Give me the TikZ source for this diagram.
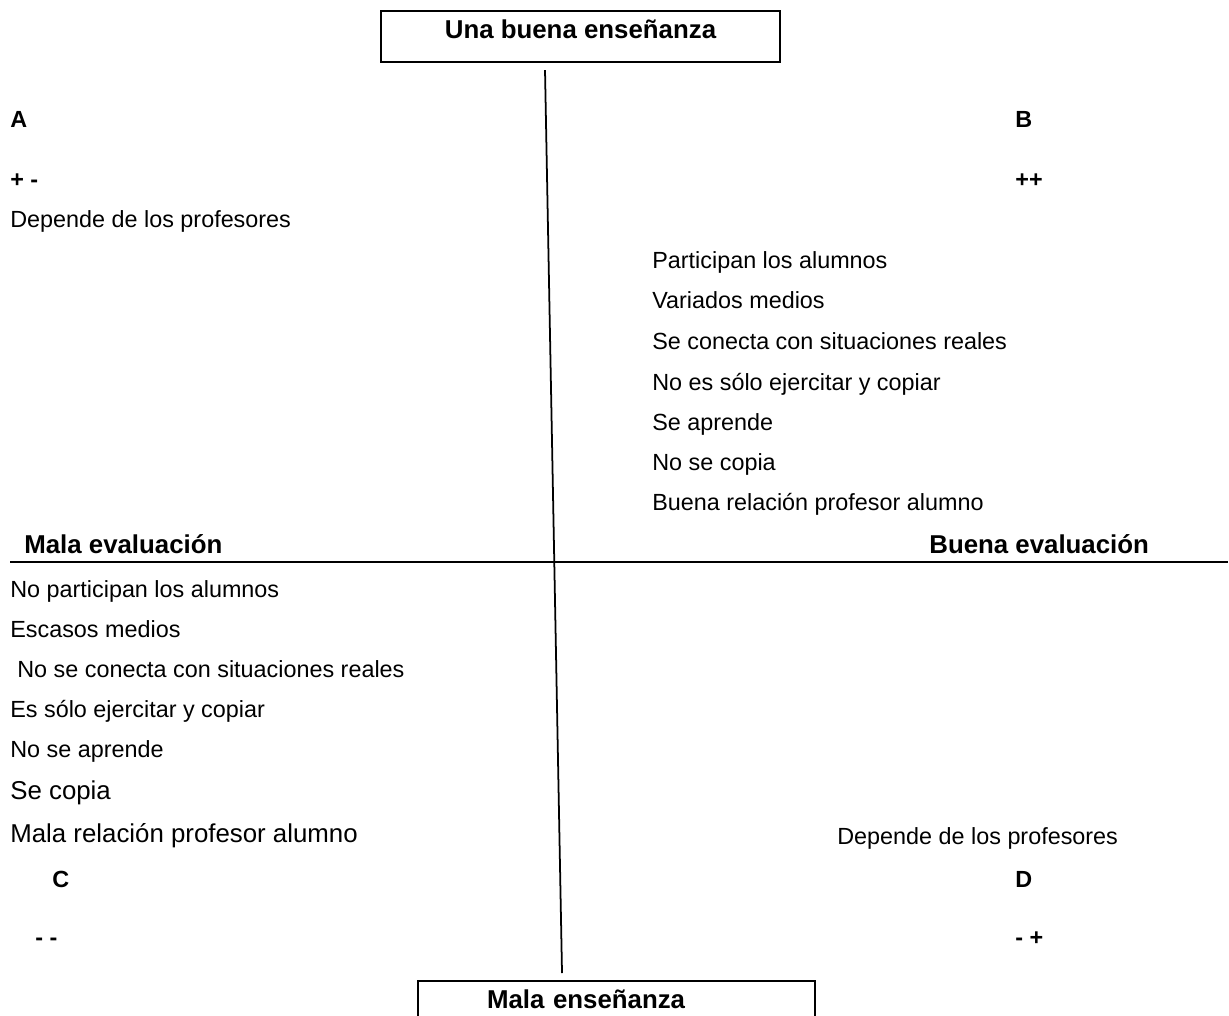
\documentclass[tikz,border=0pt]{standalone}
\usepackage{fontspec}
\setmainfont{Liberation Sans}
\usepackage{tikz}
\usetikzlibrary{positioning}

\begin{document}
\begin{tikzpicture}[
    x=0.02cm, y=-0.02cm,
    item/.style={anchor=base west, inner sep=0pt, font=\fontsize{13.3}{16}\selectfont},
    bigitem/.style={anchor=base west, inner sep=0pt, font=\fontsize{14.7}{17}\selectfont},
    tag/.style={anchor=base west, inner sep=0pt, font=\fontsize{13.3}{16}\selectfont\bfseries},
    axistitle/.style={anchor=base west, inner sep=0pt, font=\fontsize{14.7}{17}\selectfont\bfseries},
    titlebox/.style={draw, line width=1.2pt, inner sep=0pt, minimum width=7.97cm, minimum height=1.02cm,
        text height=0.4cm, text depth=0.34cm, font=\fontsize{14.7}{17}\selectfont\bfseries},
]
    \useasboundingbox (0,0) rectangle (1229,1016);
    \clip (0,0) rectangle (1229,1016);

    % Title boxes
    \node[titlebox, anchor=north] (good) at (580.5,10) {Una buena enseñanza};
    \node[titlebox, anchor=north, minimum width=7.94cm, text width=5.18cm, align=left] (bad) at (616.5,980) {Mala enseñanza};

    % Axes
    \coordinate (west) at (10,562);
    \coordinate (east) at (1228,562);
    \draw[line width=1.2pt] (west) -- (east);
    \draw[line width=1pt] ([xshift=-0.71cm, yshift=-0.14cm]good.south) -- ([xshift=-1.09cm, yshift=0.14cm]bad.north);

    % Axis titles
    \node[axistitle] (malaeval) at (24,553) {Mala evaluación};
    \node[axistitle] (buenaeval) at (929,553) {Buena evaluación};

    % Quadrant A
    \node[tag] (qa) at (10,128) {A};
    \node[tag] (qasign) at (10,188) {+ -};
    \node[item] (qatext) at (10,228) {Depende de los profesores};

    % Quadrant B
    \node[tag] (qb) at (1015,128) {B};
    \node[tag] (qbsign) at (1015,188) {++};
    \node[item] (b1) at (652,269) {Participan los alumnos};
    \node[item] (b2) at (652,309) {Variados medios};
    \node[item] (b3) at (652,350) {Se conecta con situaciones reales};
    \node[item] (b4) at (652,390) {No es sólo ejercitar y copiar};
    \node[item] (b5) at (652,430) {Se aprende};
    \node[item] (b6) at (652,470) {No se copia};
    \node[item] (b7) at (652,510) {Buena relación profesor alumno};

    % Quadrant C
    \node[item] (c1) at (10,597) {No participan los alumnos};
    \node[item] (c2) at (10,637) {Escasos medios};
    \node[item] (c3) at (17,677) {No se conecta con situaciones reales};
    \node[item] (c4) at (10,717) {Es sólo ejercitar y copiar};
    \node[item] (c5) at (10,757) {No se aprende};
    \node[bigitem] (c6) at (10,799) {Se copia};
    \node[bigitem] (c7) at (10,842) {Mala relación profesor alumno};
    \node[tag] (qc) at (52,887) {C};
    \node[tag] (qcsign) at (35,945) {- -};

    % Quadrant D
    \node[item] (qdtext) at (837,844) {Depende de los profesores};
    \node[tag] (qd) at (1015,887) {D};
    \node[tag] (qdsign) at (1015,945) {- +};
\end{tikzpicture}
\end{document}
